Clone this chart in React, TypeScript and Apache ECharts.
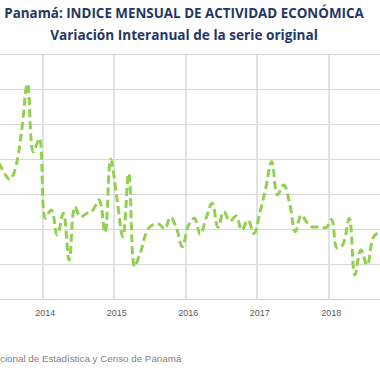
import React, { useEffect, useRef } from "react";
import * as echarts from "echarts";

// Months Jan 2013 .. Dec 2018
const years = [2013, 2014, 2015, 2016, 2017, 2018];
const months = ["01", "02", "03", "04", "05", "06", "07", "08", "09", "10", "11", "12"];
const categories: string[] = years.flatMap((y) => months.map((m) => `${y}-${m}`));

// Variación interanual (%) of the IMAE
const values2013 = [8.5, 8.8, 8.2, 7.9, 7.83, 7.26, 6.84, 7.49, 9.54, 12.3, 8.4, 9.18];
const values2014 = [4.61, 5.09, 3.66, 4.9, 2.23, 5.27, 4.7, 4.9, 5.09, 5.66, 3.79, 7.98];
const values2015 = [5.83, 3.56, 7.18, 1.85, 2.69, 3.83, 4.23, 4.29, 4.0, 4.66, 4.06, 2.99];
const values2016 = [4.17, 4.61, 3.7, 4.63, 5.47, 4.1, 4.99, 4.46, 4.74, 3.94, 4.51, 3.75];
const values2017 = [4.91, 6.34, 7.85, 5.94, 6.51, 5.49, 3.85, 4.8, 4.34, 4.11, 4.11, 4.06];
const values2018 = [4.55, 2.91, 3.14, 4.61, 1.37, 2.8, 1.94, 3.49, 3.83, 4.06, 4.2, 4.3];
const seriesValues = [
  ...values2013,
  ...values2014,
  ...values2015,
  ...values2016,
  ...values2017,
  ...values2018,
];

const titleText = "Panamá: INDICE MENSUAL DE ACTIVIDAD ECONÓMICA";
const subtitleText = "Variación Interanual de la serie original";
const sourceText = "cional de Estadística y Censo de Panamá";

const isJan = (_i: number, v: string) => String(v).endsWith("-01");
const isVisibleJan = (_i: number, v: string) =>
  String(v).endsWith("-01") && !String(v).startsWith("2013");

const SHIFT = 60; // chart canvas starts 60px left of the visible window
const CANVAS_W = 500;

export default function App() {
  const ref = useRef<HTMLDivElement>(null);
  useEffect(() => {
    if (!ref.current) return;
    const chart = echarts.init(ref.current, null, { renderer: "svg" });
    const monthPx = 5.958;
    const gridLeft = -29.2 + SHIFT;
    const gridRight = CANVAS_W - (gridLeft + categories.length * monthPx);
    chart.setOption({
      animation: false,
      backgroundColor: "#ffffff",
      grid: { left: gridLeft, right: gridRight, top: 54, bottom: 81, containLabel: false },
      xAxis: {
        type: "category",
        data: categories,
        boundaryGap: true,
        axisLine: { show: true, lineStyle: { color: "#d0d0d0", width: 1 } },
        axisTick: { show: false },
        axisLabel: {
          interval: isVisibleJan,
          formatter: (v: string) => v.slice(0, 4),
          color: "#595959",
          fontFamily: "Liberation Sans",
          fontSize: 9,
          margin: 9,
        },
        splitLine: {
          show: true,
          interval: isJan,
          lineStyle: { color: "#d9d9d9", width: 1.5 },
        },
      },
      yAxis: {
        type: "value",
        min: 0,
        max: 14,
        interval: 2,
        axisLine: { show: false },
        axisTick: { show: false },
        axisLabel: { show: false },
        splitLine: { show: true, lineStyle: { color: "#d9d9d9", width: 1 } },
      },
      graphic: [
        {
          type: "text",
          x: 184 + SHIFT,
          y: 13,
          style: {
            text: titleText,
            fill: "#1F3864",
            font: "bold 13.4px 'Open Sans'",
            textAlign: "center",
            textVerticalAlign: "middle",
          },
        },
        {
          type: "text",
          x: 184 + SHIFT,
          y: 34,
          style: {
            text: subtitleText,
            fill: "#1F3864",
            font: "bold 13.6px 'Open Sans'",
            textAlign: "center",
            textVerticalAlign: "middle",
          },
        },
        {
          type: "text",
          x: SHIFT,
          y: 358,
          style: {
            text: sourceText,
            fill: "#7f7f7f",
            font: "9.8px 'Liberation Sans'",
            textAlign: "left",
            textVerticalAlign: "middle",
          },
        },
      ],
      series: [
        {
          type: "line",
          data: seriesValues,
          smooth: 0.4,
          symbol: "none",
          lineStyle: { color: "#92D050", width: 3, type: [8, 4] },
        },
      ],
    });
    return () => chart.dispose();
  }, []);
  return (
    <div
      style={{
        position: "fixed",
        left: 0,
        top: 0,
        width: 380,
        height: 380,
        overflow: "hidden",
        background: "#ffffff",
      }}
    >
      <div
        ref={ref}
        style={{ position: "absolute", left: -SHIFT, top: 0, width: CANVAS_W, height: 380 }}
      />
    </div>
  );
}
